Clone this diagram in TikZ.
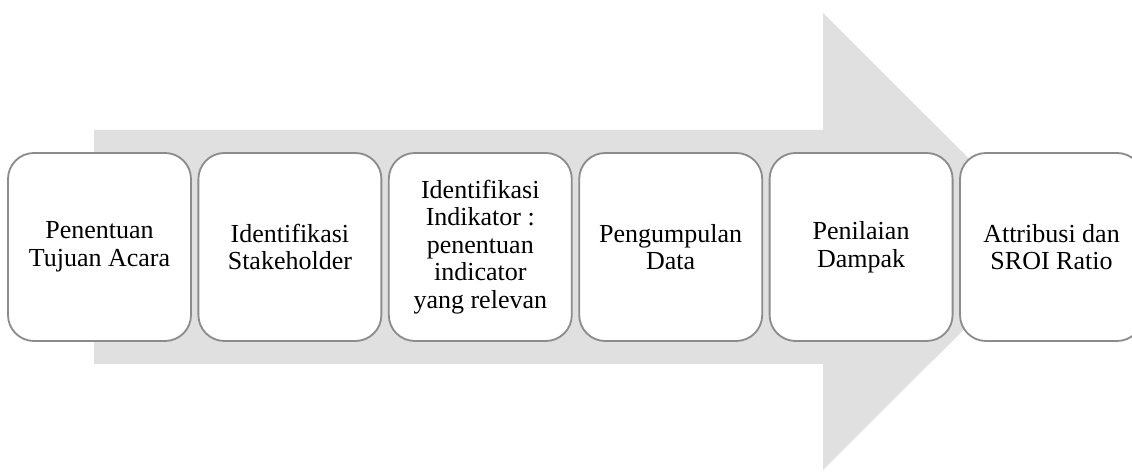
\documentclass[tikz,border=0pt]{standalone}
\usepackage{fontspec}
\setmainfont{Liberation Serif}
\usepackage{tikz}
\usetikzlibrary{positioning}
\usepackage{xcolor}
\definecolor{panah}{HTML}{E0E0E0}
\definecolor{garis}{HTML}{8C8C8C}
\tikzset{tahap/.style={draw=garis,line width=1.3pt,fill=white,rounded corners=0.65cm,
  minimum width=4.575cm,minimum height=4.7cm,inner sep=0pt,outer sep=0pt,
  align=center,font=\fontsize{18.5}{19.6}\selectfont}}

\begin{document}
\begin{tikzpicture}
\clip (0,0) rectangle (28.3,11.875);
% panah besar di belakang
\fill [panah] (2.35,2.775) -- (2.35,8.625) -- (20.575,8.625) -- (20.575,11.55)
  -- (26.3,5.8375) -- (20.575,0.125) -- (20.575,2.775) -- cycle;
\node [tahap] (tujuan) at (2.4875,5.7) {Penentuan\\Tujuan Acara};
\node [tahap,right=0.185cm of tujuan] (stake) {Identifikasi\\Stakeholder};
\node [tahap,right=0.185cm of stake] (indikator) {Identifikasi\\Indikator :\\penentuan\\indicator\\yang relevan};
\node [tahap,right=0.185cm of indikator] (data) {Pengumpulan\\Data};
\node [tahap,right=0.185cm of data] (dampak) {Penilaian\\Dampak};
\node [tahap,right=0.185cm of dampak] (sroi) {Attribusi dan\\SROI Ratio};
\end{tikzpicture}
\end{document}
